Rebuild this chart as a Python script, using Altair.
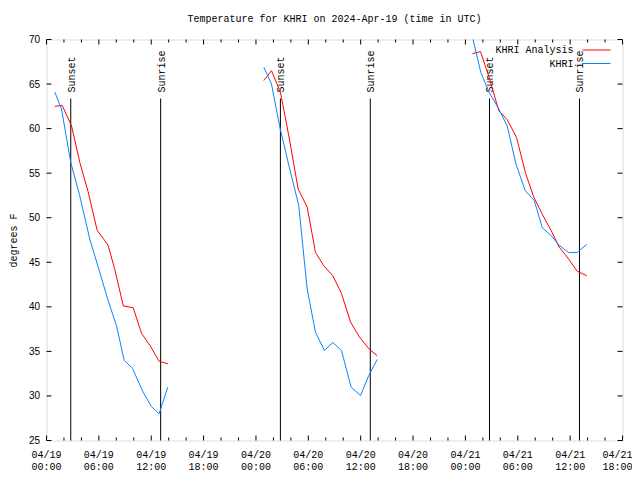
import altair as alt
import pandas as pd

FONT = "Liberation Mono"

title_text = "Temperature for KHRI on 2024-Apr-19 (time in UTC)"
y_title = "degrees F"
series_names = ["KHRI Analysis", "KHRI"]
series_colors = ["#ff0000", "#0a84ff"]

# hours since 2024-04-19 00:00 UTC, one list per overnight segment
ana_h = [
    [0.95, 1.8, 2.87, 3.82, 4.77, 5.8, 6.7, 7.06, 7.8, 8.8, 9.93, 10.9, 11.84, 12.9, 13.9],
    [24.9, 25.78, 26.8, 27.76, 28.84, 29.87, 30.82, 31.78, 32.8, 33.8, 34.83, 35.87, 36.93, 37.9],
    [48.8, 49.73, 50.7, 51.83, 52.79, 53.86, 54.89, 55.84, 56.8, 57.8, 58.75, 59.8, 60.8, 61.9],
]
ana_t = [
    [62.5, 62.6, 60.3, 56.2, 52.9, 48.6, 47.4, 46.9, 44.3, 40.1, 39.9, 37.0, 35.7, 33.9, 33.6],
    [65.4, 66.5, 64.1, 59.2, 53.2, 51.2, 46.1, 44.6, 43.5, 41.5, 38.3, 36.6, 35.3, 34.5],
    [68.4, 68.65, 65.8, 62.0, 61.0, 59.0, 55.0, 52.3, 50.4, 48.6, 46.7, 45.4, 44.0, 43.5],
]
obs_h = [
    [0.95, 1.72, 2.78, 3.8, 4.96, 6.1, 7.06, 8.02, 8.9, 9.85, 11.08, 12.03, 12.9, 13.9],
    [24.9, 25.78, 26.73, 27.76, 28.9, 29.87, 30.82, 31.85, 32.8, 33.8, 34.9, 35.98, 36.93, 37.9],
    [48.85, 49.77, 50.7, 51.83, 52.79, 53.8, 54.85, 55.9, 56.8, 57.8, 58.75, 59.8, 60.8, 61.9],
]
obs_t = [
    [64.1, 62.2, 56.2, 52.5, 47.6, 43.9, 40.7, 37.9, 34.0, 33.1, 30.4, 28.8, 28.0, 31.0],
    [66.9, 65.0, 60.2, 55.9, 51.4, 42.0, 37.15, 35.1, 36.0, 35.1, 31.0, 30.05, 32.3, 34.1],
    [70.1, 66.3, 64.1, 62.2, 60.3, 56.0, 53.05, 51.9, 48.9, 48.0, 46.9, 46.1, 46.1, 47.0],
]

sun_h = [2.78, 13.08, 26.8, 37.1, 50.76, 61.07]
sun_labels = ["Sunset", "Sunrise", "Sunset", "Sunrise", "Sunset", "Sunrise"]

x_major = [0, 6, 12, 18, 24, 30, 36, 42, 48, 54, 60, 66]
x_minor = [h for h in range(0, 67, 2) if h % 6 != 0]
tick_dates = ["04/19"] * 4 + ["04/20"] * 4 + ["04/21"] * 4
tick_times = ["00:00", "06:00", "12:00", "18:00"] * 3
y_ticks = [25, 30, 35, 40, 45, 50, 55, 60, 65, 70]

W, H = 576, 401

rows = []
for name, hs, ts in [(series_names[0], ana_h, ana_t), (series_names[1], obs_h, obs_t)]:
    for seg, (hh, tt) in enumerate(zip(hs, ts)):
        for h, t in zip(hh, tt):
            rows.append({"series": name, "seg": seg, "h": h, "t": t})
df = pd.DataFrame(rows)

sun_df = pd.DataFrame({"h": sun_h, "label": sun_labels})
major_df = pd.DataFrame({"h": x_major})
minor_df = pd.DataFrame({"h": x_minor})
ytick_df = pd.DataFrame({"t": y_ticks})
xlab_df = pd.DataFrame({"h": x_major, "lab": [d + "\n" + t for d, t in zip(tick_dates, tick_times)]})

xs = alt.Scale(domain=[0, 66], nice=False, zero=False)
ys = alt.Scale(domain=[25, 70], nice=False, zero=False)
y_axis = alt.Axis(values=y_ticks, ticks=False, domain=False, grid=False, labelPadding=7,
                  title=y_title, titleX=-33, titleY=H / 2, titleAngle=270,
                  titleAlign="center", titleBaseline="middle", titleFontWeight="normal",
                  titleFont=FONT, titleFontSize=10)
X = alt.X("h:Q", scale=xs, axis=None)
Y = alt.Y("t:Q", scale=ys, axis=y_axis)

color = alt.Color("series:N", scale=alt.Scale(domain=series_names, range=series_colors), legend=None)

red = alt.Chart(df[df.series == series_names[0]]).mark_line(strokeWidth=1, clip=True).encode(
    x=X, y=Y, color=color, detail="seg:N")
blue = alt.Chart(df[df.series == series_names[1]]).mark_line(strokeWidth=1, clip=True).encode(
    x=X, y=Y, color=color, detail="seg:N")

sun_rules = alt.Chart(sun_df).mark_rule(color="black", strokeWidth=1).encode(
    x=X, y=alt.value(59), y2=alt.value(H))
sun_text = alt.Chart(sun_df).mark_text(angle=270, align="left", baseline="middle", font=FONT,
                                       fontSize=10, color="black", dy=1).encode(
    x=X, y=alt.value(53), text="label:N")

maj_b = alt.Chart(major_df).mark_rule(color="black").encode(x=X, y=alt.value(H), y2=alt.value(H - 5))
maj_t = alt.Chart(major_df).mark_rule(color="black").encode(x=X, y=alt.value(0), y2=alt.value(5))
min_b = alt.Chart(minor_df).mark_rule(color="black").encode(x=X, y=alt.value(H), y2=alt.value(H - 3))
min_t = alt.Chart(minor_df).mark_rule(color="black").encode(x=X, y=alt.value(0), y2=alt.value(3))
y_l = alt.Chart(ytick_df).mark_rule(color="black").encode(y=Y, x=alt.value(0), x2=alt.value(5))
y_r = alt.Chart(ytick_df).mark_rule(color="black").encode(y=Y, x=alt.value(W), x2=alt.value(W - 5))

xlab_main = alt.Chart(xlab_df.iloc[:-1]).mark_text(
    baseline="top", align="center", lineBreak="\n", lineHeight=12, font=FONT, fontSize=10,
    color="black").encode(x=X, y=alt.value(H + 9), text="lab:N")
xlab_last = alt.Chart(xlab_df.iloc[-1:]).mark_text(
    baseline="top", align="center", lineBreak="\n", lineHeight=12, font=FONT, fontSize=10,
    color="black", dx=-5).encode(x=X, y=alt.value(H + 9), text="lab:N")

legend_layers = []
for i, (name, col) in enumerate(zip(series_names, series_colors)):
    one = pd.DataFrame({"series": [name]})
    ypix = 10.5 + 13.5 * i
    legend_layers.append(
        alt.Chart(one).mark_rule(strokeWidth=1, color=col).encode(
            x=alt.value(536), x2=alt.value(564), y=alt.value(ypix)))
    legend_layers.append(
        alt.Chart(one).mark_text(align="right", baseline="middle", font=FONT, fontSize=10,
                                 color="black").encode(
            x=alt.value(527), y=alt.value(ypix), text="series:N"))

chart = alt.layer(
    maj_b, maj_t, min_b, min_t, y_l, y_r, sun_rules, sun_text, red, blue,
    xlab_main, xlab_last, *legend_layers
).properties(
    width=W, height=H,
    title=alt.TitleParams(text=title_text, font=FONT, fontSize=10, fontWeight="normal",
                          anchor="middle", offset=11, color="black"),
    padding={"left": 38.5, "top": 31.5, "right": 9.5, "bottom": 36},
    autosize=alt.AutoSizeParams(type="none"),
).configure_view(stroke="black", strokeWidth=1).configure_axis(
    labelFont=FONT, labelFontSize=10, labelColor="black", titleFont=FONT, titleFontSize=10,
    titleColor="black", titleFontWeight="normal"
).configure(background="white")

chart.save("out.html", embed_options={"renderer": "svg", "actions": False})
